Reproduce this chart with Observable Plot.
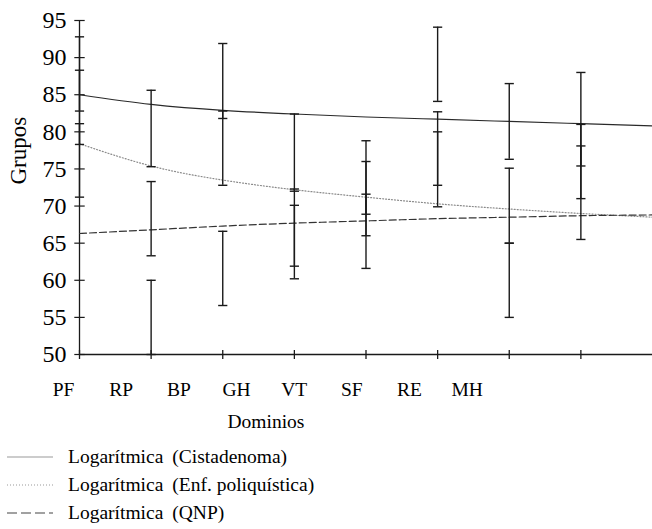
<!DOCTYPE html>
<html>
<head>
<meta charset="utf-8">
<script src="https://cdn.jsdelivr.net/npm/d3@7"></script>
<script src="https://cdn.jsdelivr.net/npm/@observablehq/plot@0.6"></script>
<style>
  html, body { margin: 0; padding: 0; background: #fff; }
  #chart { width: 652px; }
  .legend { font-family: "Liberation Serif", serif; font-size: 19.5px; color: #000; padding-top: 3px; }
  .legend .row { display: flex; align-items: center; height: 28px; }
  .legend svg { margin-left: 7px; margin-right: 15px; }
  .legend .lead { margin-right: 9px; }
</style>
</head>
<body>
<div id="chart"></div>
<script>
// ---- data ----
const categories = ["PF", "RP", "BP", "GH", "VT", "SF", "RE", "MH"];
const yTicks = [50, 55, 60, 65, 70, 75, 80, 85, 90, 95];

// error bars (low / high) per group
const cistLo = [82.8, 75.3, 81.8, 72.0, 68.9, 84.1, 76.3, 75.4];
const cistHi = [92.8, 85.6, 91.9, 82.4, 78.8, 94.1, 86.5, 88.0];
const enfLo  = [78.3, 63.3, 72.8, 61.9, 66.0, 72.8, 65.0, 71.0];
const enfHi  = [88.3, 73.3, 82.8, 72.3, 76.0, 82.7, 75.1, 81.0];
const qnpLo  = [71.2, 50.0, 56.6, 60.2, 61.6, 69.9, 55.0, 65.5];
const qnpHi  = [81.1, 60.0, 66.6, 70.1, 71.6, 80.0, 65.0, 78.1];

// logarithmic trend lines, read at category slots 1..9
const trendCist = [85.0, 83.7, 82.9, 82.4, 82.0, 81.7, 81.4, 81.1, 80.8];
const trendEnf  = [78.4, 75.4, 73.5, 72.2, 71.2, 70.3, 69.6, 69.0, 68.5];
const trendQnp  = [66.3, 66.8, 67.3, 67.7, 68.0, 68.3, 68.5, 68.7, 68.8];

const legendLead = "Logarítmica";
const legendNames = ["(Cistadenoma)", "(Enf. poliquística)", "(QNP)"];

// ---- build tables ----
const groups = [
  {name: "Cistadenoma", lo: cistLo, hi: cistHi},
  {name: "Enf. poliquística", lo: enfLo, hi: enfHi},
  {name: "QNP", lo: qnpLo, hi: qnpHi}
];
const bars = groups.flatMap(g => categories.map((c, i) => ({group: g.name, cat: c, x: i + 1, lo: g.lo[i], hi: g.hi[i]})));
const caps = bars.flatMap(b => [{x: b.x, y: b.lo}, {x: b.x, y: b.hi}]);
const trendRows = vals => vals.map((v, i) => ({x: i + 1, y: v}));

// label slots along the category axis (labels are spread narrower than the ticks in the original)
const labelSlots = categories.map((c, i) => 0.777 + i * 0.805);
const labelOf = new Map(labelSlots.map((s, i) => [s, categories[i]]));

const hline = {draw(ctx, size) { const r = Math.sqrt(size / Math.PI); ctx.moveTo(-r, 0); ctx.lineTo(r, 0); }};
const vline = {draw(ctx, size) { const r = Math.sqrt(size / Math.PI); ctx.moveTo(0, -r); ctx.lineTo(0, r); }};

const ink = "#1a1a1a";

const plot = Plot.plot({
  width: 652,
  height: 440,
  marginLeft: 79,
  marginRight: 0,
  marginTop: 20,
  marginBottom: 86,
  style: {fontFamily: "'Liberation Serif', serif", fontSize: "19.5px", color: "#000", background: "#fff", overflow: "visible"},
  x: {domain: [1, 9], axis: null},
  y: {domain: [50, 95], axis: null},
  marks: [
    Plot.axisY({ticks: yTicks, tickSize: 0, tickPadding: 13, label: null, fontSize: 24}),
    Plot.axisX({ticks: labelSlots, tickSize: 0, tickPadding: 28, tickFormat: d => labelOf.get(d), label: null, fontSize: 19.5}),
    Plot.ruleX([1], {stroke: ink, strokeWidth: 1.3}),
    Plot.ruleY([50], {stroke: ink, strokeWidth: 1.3}),
    Plot.dot(yTicks, {x: 1, y: d => d, symbol: hline, r: 5.2, stroke: ink, fill: "none", strokeWidth: 1.2}),
    Plot.dot(categories, {x: (d, i) => i + 1, y: 50, symbol: vline, r: 4.5, stroke: ink, fill: "none", strokeWidth: 1.3}),
    // trend lines
    Plot.line(trendRows(trendCist), {x: "x", y: "y", curve: "natural", stroke: "#2a2a2a", strokeWidth: 1.2}),
    Plot.line(trendRows(trendEnf), {x: "x", y: "y", curve: "natural", stroke: "#8a8a8a", strokeWidth: 1.2, strokeDasharray: "1,2"}),
    Plot.line(trendRows(trendQnp), {x: "x", y: "y", curve: "natural", stroke: "#333", strokeWidth: 1.2, strokeDasharray: "7,3"}),
    // error bars
    Plot.ruleX(bars, {x: "x", y1: "lo", y2: "hi", stroke: ink, strokeWidth: 1.4}),
    Plot.dot(caps, {x: "x", y: "y", symbol: hline, r: 4.6, stroke: ink, fill: "none", strokeWidth: 1.4}),
    // axis titles
    Plot.text(["Grupos"], {frameAnchor: "left", text: d => d, rotate: -90, dx: -61, dy: -3, fontSize: 23, fill: "#000"}),
    Plot.text(["Dominios"], {frameAnchor: "bottom", text: d => d, dx: -100, dy: 73, fontSize: 19.5, fill: "#000"})
  ]
});
document.getElementById("chart").appendChild(plot);

// legend
const styles = [
  {stroke: "#9a9a9a", dash: null},
  {stroke: "#9a9a9a", dash: "1,2"},
  {stroke: "#444", dash: "10,4"}
];
const legend = d3.select("#chart").append("div").attr("class", "legend");
legendNames.forEach((name, i) => {
  const row = legend.append("div").attr("class", "row");
  const s = row.append("svg").attr("width", 46).attr("height", 10);
  s.append("line").attr("x1", 0).attr("x2", 46).attr("y1", 5).attr("y2", 5)
    .attr("stroke", styles[i].stroke).attr("stroke-width", 1.2)
    .attr("stroke-dasharray", styles[i].dash);
  row.append("span").attr("class", "lead").text(legendLead);
  row.append("span").text(name);
});
</script>
</body>
</html>
